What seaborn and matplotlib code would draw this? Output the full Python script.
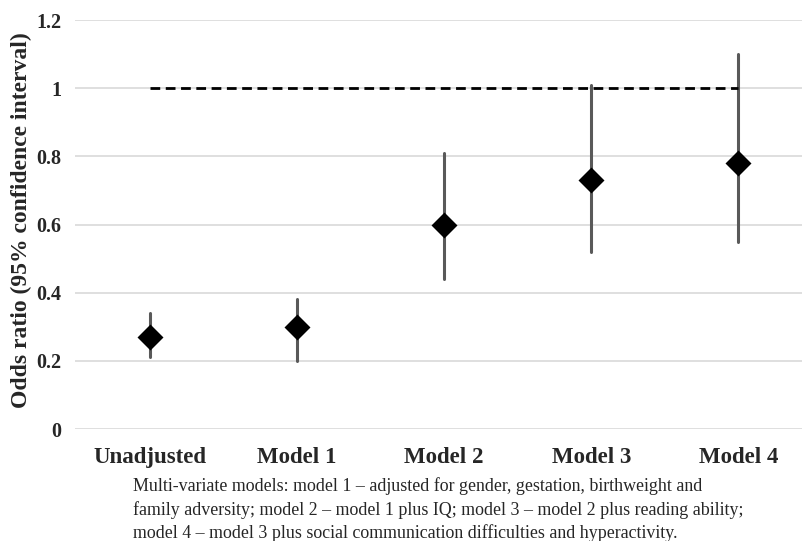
import pandas as pd
import numpy as np
import seaborn as sns
import matplotlib.pyplot as plt

# values
models = ["Unadjusted", "Model 1", "Model 2", "Model 3", "Model 4"]
odds = [0.27, 0.30, 0.60, 0.73, 0.78]
ci_low = [0.21, 0.20, 0.44, 0.52, 0.55]
ci_high = [0.34, 0.38, 0.81, 1.01, 1.10]
yticks = [0, 0.2, 0.4, 0.6, 0.8, 1, 1.2]
ytick_labels = ["0", "0.2", "0.4", "0.6", "0.8", "1", "1.2"]

caption = ("Multi-variate models: model 1 \u2013 adjusted for gender, gestation, birthweight and\n"
           "family adversity; model 2 \u2013 model 1 plus IQ; model 3 \u2013 model 2 plus reading ability;\n"
           "model 4 \u2013 model 3 plus social communication difficulties and hyperactivity.")

# long table: low / estimate / high per model, median gives the estimate
rows = []
for m, o, lo, hi in zip(models, odds, ci_low, ci_high):
    rows += [(m, lo), (m, o), (m, hi)]
df = pd.DataFrame(rows, columns=["model", "value"])

sns.set_style("white")
plt.rcParams['font.family'] = ['Liberation Serif', 'DejaVu Serif']

fig = plt.figure(figsize=(8.03, 5.41), dpi=100)
ax = fig.add_axes([0.0934, 0.207, 0.9066, 0.756])

ax.set_ylim(0, 1.2)
ax.set_yticks(yticks)
ax.set_yticklabels(ytick_labels, fontsize=14.5, fontweight="bold")
ax.grid(axis="y", color="#d9d9d9", linewidth=1.2)
ax.set_axisbelow(True)

ax.hlines(1, 0, 4, colors="black", linestyles=(0, (3.5, 2)), linewidth=2, zorder=2)

sns.pointplot(data=df, x="model", y="value", order=models,
              estimator=np.median, errorbar=lambda x: (x.min(), x.max()),
              linestyle="none", markers="D", color="black", markersize=11,
              err_kws={"color": "#595959", "linewidth": 2.2, "zorder": 2.5}, ax=ax)
for coll in ax.collections:
    coll.set_zorder(4)
for line in ax.lines:
    if len(line.get_xdata()) == 5:
        line.set_zorder(4)

ax.set_xlim(-0.51, 4.44)
ax.set_xlabel("")
ax.set_ylabel("Odds ratio (95% confidence interval)", fontsize=17, fontweight="bold")
ax.yaxis.set_label_coords(-0.059, 0.511)
ax.set_xticks(range(len(models)))
ax.set_xticklabels(models, fontsize=16.5, fontweight="bold")
ax.tick_params(axis="x", pad=13, length=0)
ax.tick_params(axis="y", length=0, pad=10)
sns.despine(left=True, bottom=True)

fig.text(133 / 803, 1 - 477 / 541, caption, fontsize=12.9, va="top", ha="left", linespacing=1.42)

fig.savefig("out.png", dpi=100)
